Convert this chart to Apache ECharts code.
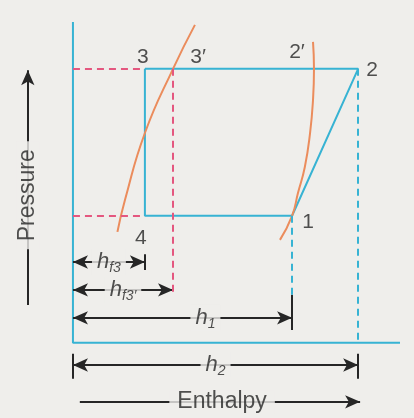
<!DOCTYPE html>
<html>
<head>
<meta charset="utf-8">
<script src="https://cdn.jsdelivr.net/npm/echarts@6/dist/echarts.min.js"></script>
<style>
    html, body { margin: 0; padding: 0; background: #efeeeb; }
    #chart { width: 414px; height: 418px; }
</style>
</head>
<body>
<div id="chart"></div>
<script>
// pressure-enthalpy cycle, arbitrary units (axes run 0..100)
var pHigh = 85.4, pLow = 39.6;
var hf3 = 22, hf3p = 30.6, h1 = 67, h2 = 87.2;

var axisFrame = [[0, 100], [0, 0], [100, 0]];
var cycle = [[hf3, pHigh], [h2, pHigh], [h1, pLow], [hf3, pLow], [hf3, pHigh]];
var liquidLine = [[37.3, 99.1], [30.6, 85.4], [22.0, 65.4], [15.9, 44.5], [13.6, 34.6]];
var vapourLine = [[73.4, 93.8], [73.7, 85.4], [73.4, 75.7], [72.5, 65.4], [70.9, 54.8], [68.8, 46.7], [67.0, 39.6], [63.3, 32.1]];

var pointNames = ['3', '3′', '2′', '2', '1', '4'];
var pointAt = [[hf3, pHigh], [hf3p, pHigh], [73.7, pHigh], [h2, pHigh], [h1, pLow], [hf3, pLow]];

// dimension rows under the diagram
var dimNames = ['{h|h}{s|f3}', '{h|h}{s|f3′}', '{h|h}{s|1}', '{h|h}{s|2}'];
var dimRow = [25.2, 16.5, 7.8, -6.9];
var dimEnd = [hf3, hf3p, h1, h2];
var dimTextAt = [11, 15.3, 40.5, 43.6];

var bg = '#efeeeb', cyan = '#37b3d3', orange = '#eb8c5c', pink = '#e4577f', ink = '#262626';
var font = '"Liberation Sans", Arial, sans-serif';

var chart = echarts.init(document.getElementById('chart'));

function seg(a, b, sym) {
    var s = [{coord: a}, {coord: b}];
    if (sym) { s[0].symbol = sym[0]; s[1].symbol = sym[1]; }
    return s;
}

var pinkGuides = [
    seg([0, pHigh], [hf3, pHigh]),
    seg([0, pLow], [hf3, pLow]),
    seg([hf3p, pHigh], [hf3p, 15.6])
];
var cyanGuides = [
    seg([h1, pLow], [h1, 14.3]),
    seg([h2, pHigh], [h2, 0])
];

var dimLines = [];
dimNames.forEach(function (n, i) {
    dimLines.push(seg([0, dimRow[i]], [dimEnd[i], dimRow[i]], ['arrow', 'arrow']));
});
dimLines.push(seg([hf3, 22.7], [hf3, 27.6], ['none', 'none']));
dimLines.push(seg([h1, 4.0], [h1, 15.0], ['none', 'none']));
dimLines.push(seg([0, -3.4], [0, -11.2], ['none', 'none']));
dimLines.push(seg([h2, -3.4], [h2, -11.2], ['none', 'none']));
dimLines.push(seg([2.1, -18.4], [87.8, -18.4], ['none', 'arrow']));
dimLines.push(seg([-13.8, 11.8], [-13.8, 85], ['none', 'arrow']));

var texts = [];
pointNames.forEach(function (n, i) {
    var off = [[-2, -12], [25, -12], [-17, -17], [14, 1], [16, 6], [-4, 22]][i];
    texts.push({value: pointAt[i], label: {formatter: n, offset: off}});
});
dimNames.forEach(function (n, i) {
    texts.push({value: [dimTextAt[i], dimRow[i]], label: {formatter: n, backgroundColor: bg, padding: [0, 5]}});
});
texts.push({value: [45.6, -18.4], label: {formatter: 'Enthalpy', fontSize: 23, backgroundColor: bg, padding: [0, 8]}});
texts.push({value: [-13.8, 46], label: {formatter: 'Pressure', fontSize: 23, rotate: 90, backgroundColor: bg, padding: [0, 8]}});

var option = {
    animation: false,
    backgroundColor: bg,
    grid: {left: 1, right: 14, top: 22, bottom: 11},
    xAxis: {type: 'value', min: -22, max: 100, show: false},
    yAxis: {type: 'value', min: -20, max: 100, show: false},
    series: [
        {
            type: 'line', data: axisFrame, symbol: 'none',
            lineStyle: {color: cyan, width: 2},
            markLine: {
                silent: true, symbolSize: [10, 15],
                label: {show: false},
                lineStyle: {color: ink, width: 2, type: 'solid'},
                data: dimLines
            }
        },
        {
            type: 'line', data: cycle, symbol: 'none',
            lineStyle: {color: cyan, width: 2},
            markLine: {
                silent: true, symbol: 'none', label: {show: false},
                lineStyle: {color: pink, width: 2, type: [7, 5]},
                data: pinkGuides
            }
        },
        {
            type: 'line', data: liquidLine, symbol: 'none', smooth: true, z: 3,
            lineStyle: {color: orange, width: 2},
            markLine: {
                silent: true, symbol: 'none', label: {show: false},
                lineStyle: {color: cyan, width: 2, type: [7, 5]},
                data: cyanGuides
            }
        },
        {
            type: 'line', data: vapourLine, symbol: 'none', smooth: true, z: 3,
            lineStyle: {color: orange, width: 2}
        },
        {
            type: 'scatter', data: texts, symbolSize: 0, z: 10,
            label: {
                show: true, position: 'inside', color: ink, fontFamily: font, fontSize: 21,
                rich: {
                    h: {fontStyle: 'italic', fontSize: 22, color: ink, fontFamily: font},
                    s: {fontStyle: 'italic', fontSize: 14, color: ink, fontFamily: font, verticalAlign: 'bottom', padding: [12, 0, 0, 0]}
                }
            }
        }
    ]
};
chart.setOption(option);
</script>
</body>
</html>
